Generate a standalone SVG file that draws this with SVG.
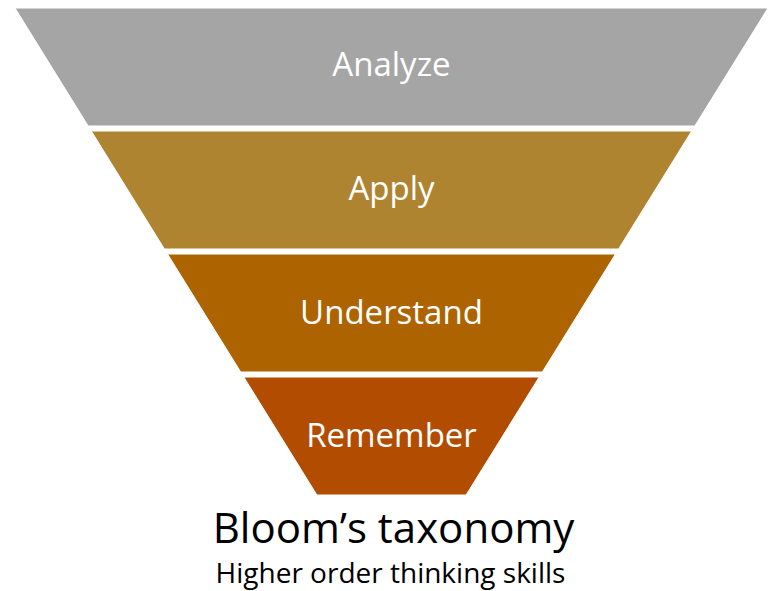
<svg xmlns="http://www.w3.org/2000/svg" width="772" height="591" viewBox="0 0 772 591">
<style>
.lbl{font-family:"Open Sans","Liberation Sans",sans-serif;font-size:33px;fill:#ffffff;text-anchor:middle}
.ttl{font-family:"Open Sans","Liberation Sans",sans-serif;fill:#000000;text-anchor:middle}
.band{stroke:#ffffff;stroke-width:1}
</style>
<rect width="772" height="591" fill="#ffffff"/>
<g id="analyze">
<polygon class="band" fill="#A5A5A5" points="15,8 768,8 694.8,126 88.2,126"/>
<text class="lbl" x="391.5" y="76">Analyze</text>
</g>
<g id="apply">
<polygon class="band" fill="#AE8431" points="91.3,131 691.7,131 618.6,249 164.4,249"/>
<text class="lbl" x="391.5" y="200">Apply</text>
</g>
<g id="understand">
<polygon class="band" fill="#AD6400" points="167.5,254 615.5,254 542.3,372 240.7,372"/>
<text class="lbl" x="391.5" y="324">Understand</text>
</g>
<g id="remember">
<polygon class="band" fill="#B14C00" points="243.8,377 539.2,377 466.1,495 316.9,495"/>
<text class="lbl" x="391.5" y="447">Remember</text>
</g>
<g id="connectors"/>
<g id="title">
<text class="ttl" x="393.5" y="543" font-size="42">Bloom’s taxonomy</text>
<text class="ttl" x="390.5" y="583" font-size="28">Higher order thinking skills</text>
</g>
</svg>
